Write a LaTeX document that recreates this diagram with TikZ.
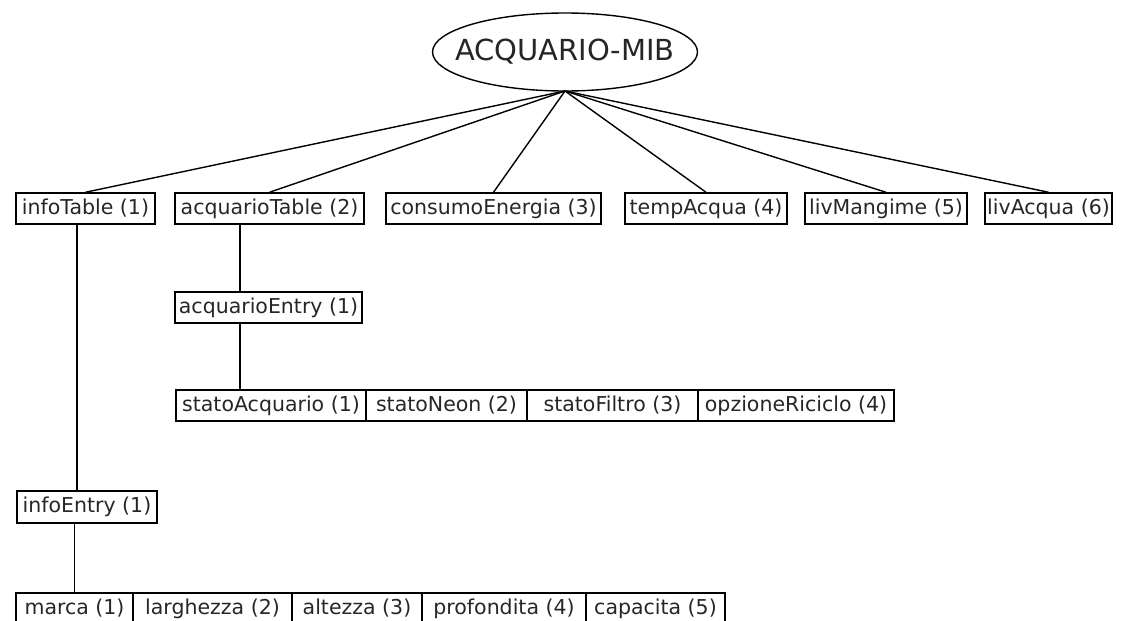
\documentclass[tikz,border=0pt]{standalone}
\usepackage{fontspec}
\setmainfont{DejaVu Sans}
\usetikzlibrary{shapes.geometric}
\tikzset{
  box/.style={draw, line width=1.5pt, inner sep=0pt, minimum height=31pt, font=\fontsize{20.5}{21}\selectfont, text=black!85},
  conn/.style={line width=1.4pt},
  rootlabel/.style={inner sep=0pt, font=\fontsize{29}{30}\selectfont, text=black!85}
}
\begin{document}
\begin{tikzpicture}[x=1pt,y=-1pt]
\useasboundingbox (0,0) rectangle (1122,621);
\node[rootlabel] (root) at (565,52) {ACQUARIO-MIB};
\draw[line width=1.4pt] (root.center) ellipse [x radius=132.5pt, y radius=39pt];
\coordinate (hub) at ([yshift=-39pt]root.center);
% row 1
\node[box, minimum width=139pt] (infoTable) at (85.5,208.5) {infoTable (1)};
\node[box, minimum width=189pt] (acquarioTable) at (269.5,208.5) {acquarioTable (2)};
\node[box, minimum width=215pt] (consumo) at (493.5,208.5) {consumoEnergia (3)};
\node[box, minimum width=162pt] (temp) at (706,208.5) {tempAcqua (4)};
\node[box, minimum width=162pt] (mangime) at (886,208.5) {livMangime (5)};
\node[box, minimum width=127pt] (livAcqua) at (1048.5,208.5) {livAcqua (6)};
% acquario branch
\node[box, minimum width=187pt] (acqEntry) at (268.5,307.5) {acquarioEntry (1)};
\node[box, minimum width=190pt] (statoAcq) at (271,405.5) {statoAcquario (1)};
\node[box, minimum width=161pt] (statoNeon) at (446.5,405.5) {statoNeon (2)};
\node[box, minimum width=171pt] (statoFiltro) at (612.5,405.5) {statoFiltro (3)};
\node[box, minimum width=196pt] (opzione) at (796,405.5) {opzioneRiciclo (4)};
% info branch
\node[box, minimum width=140pt, minimum height=32pt] (infoEntry) at (87,507) {infoEntry (1)};
\node[box, minimum width=117pt] (marca) at (74.5,608.5) {marca (1)};
\node[box, minimum width=159pt] (larghezza) at (212.5,608.5) {larghezza (2)};
\node[box, minimum width=130pt] (altezza) at (357,608.5) {altezza (3)};
\node[box, minimum width=164pt] (profondita) at (504,608.5) {profondita (4)};
\node[box, minimum width=139pt] (capacita) at (655.5,608.5) {capacita (5)};
% connectors from root
\foreach \n in {infoTable,acquarioTable,consumo,temp,mangime,livAcqua}
  \draw[conn] (hub) -- (\n.north);
% vertical connectors
\coordinate (itd) at ([xshift=-8.5pt]infoTable.south);
\draw[conn] (itd) -- (itd |- infoEntry.north);
\draw[conn] (marca.north |- infoEntry.south) -- (marca.north);
\coordinate (atd) at ([xshift=-29.5pt]acquarioTable.south);
\draw[conn] (atd) -- (atd |- acqEntry.north);
\coordinate (aed) at (atd |- acqEntry.south);
\draw[conn] (aed) -- (aed |- statoAcq.north);
\end{tikzpicture}
\end{document}
